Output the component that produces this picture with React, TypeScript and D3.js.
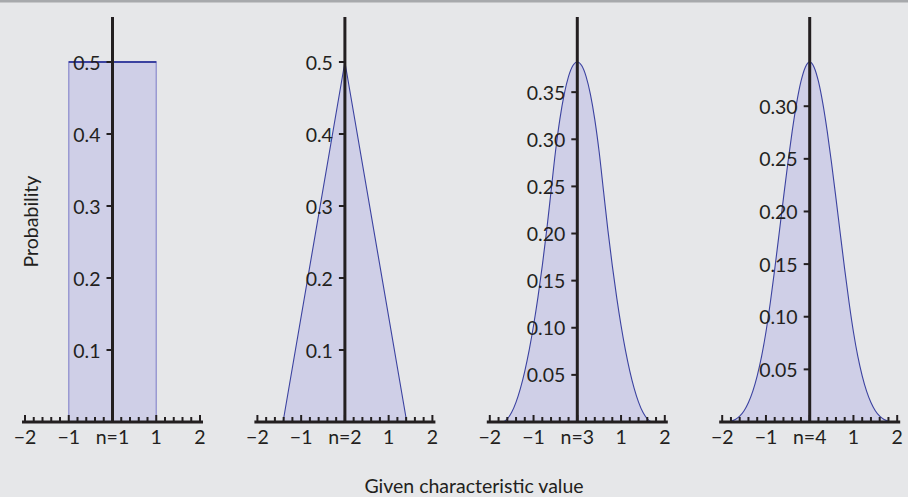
import React from "react";
import * as d3 from "d3";

// ---- data ----
const panelNames = ["n=1", "n=2", "n=3", "n=4"];
const xTickValues = [-2, -1, 0, 1, 2];
const xTickTexts = ["\u22122", "\u22121", null, "1", "2"];

const xs1 = [-1, 1];
const ys1 = [0.5, 0.5];

const xs2 = [-1.414, 0, 1.414];
const ys2 = [0, 0.5, 0];

const xs3 = [-1.732, -1.7, -1.6, -1.5, -1.4, -1.3, -1.2, -1.1, -1.0, -0.9, -0.8, -0.7, -0.6, -0.5, -0.4, -0.3, -0.2, -0.1, 0,
  0.1, 0.2, 0.3, 0.4, 0.5, 0.6, 0.7, 0.8, 0.9, 1.0, 1.1, 1.2, 1.3, 1.4, 1.5, 1.6, 1.7, 1.732];
const ys3 = [0, 0.0002, 0.0034, 0.0103, 0.0211, 0.0357, 0.0541, 0.0763, 0.1024, 0.1322, 0.1659, 0.2034, 0.2448, 0.2865, 0.3209, 0.3476, 0.3667, 0.3782, 0.382,
  0.3782, 0.3667, 0.3476, 0.3209, 0.2865, 0.2448, 0.2034, 0.1659, 0.1322, 0.1024, 0.0763, 0.0541, 0.0357, 0.0211, 0.0103, 0.0034, 0.0002, 0];

const xs4 = [-2.0, -1.9, -1.8, -1.7, -1.6, -1.5, -1.4, -1.3, -1.2, -1.1, -1.0, -0.9, -0.8, -0.7, -0.6, -0.5, -0.4, -0.3, -0.2, -0.1, 0,
  0.1, 0.2, 0.3, 0.4, 0.5, 0.6, 0.7, 0.8, 0.9, 1.0, 1.1, 1.2, 1.3, 1.4, 1.5, 1.6, 1.7, 1.8, 1.9, 2.0];
const ys4 = [0, 0.0001, 0.0007, 0.0023, 0.0055, 0.0107, 0.0185, 0.0293, 0.0438, 0.0623, 0.0855, 0.1135, 0.145, 0.1786, 0.2127, 0.2458, 0.2763, 0.3027, 0.3235, 0.3371, 0.342,
  0.3371, 0.3235, 0.3027, 0.2763, 0.2458, 0.2127, 0.1786, 0.145, 0.1135, 0.0855, 0.0623, 0.0438, 0.0293, 0.0185, 0.0107, 0.0055, 0.0023, 0.0007, 0.0001, 0];

const yTicks1 = [0.1, 0.2, 0.3, 0.4, 0.5];
const yTicks2 = [0.1, 0.2, 0.3, 0.4, 0.5];
const yTicks3 = [0.05, 0.1, 0.15, 0.2, 0.25, 0.3, 0.35];
const yTicks4 = [0.05, 0.1, 0.15, 0.2, 0.25, 0.3];

const yTickFormats = [".1f", ".1f", ".2f", ".2f"];

const panels = [
  { xs: xs1, ys: ys1, ticks: yTicks1, smooth: false },
  { xs: xs2, ys: ys2, ticks: yTicks2, smooth: false },
  { xs: xs3, ys: ys3, ticks: yTicks3, smooth: true },
  { xs: xs4, ys: ys4, ticks: yTicks4, smooth: true },
];

const W = 908;
const H = 497;
const FONT = "Lato, 'Open Sans', sans-serif";
const FS = 19.5;
const INK = "#231f20";
const FILL = "#cfcfe7";
const EDGE = "#9a9ad2";
const LINE = "#3b42a0";

function Panel({ idx }: { idx: number }) {
  const p = panels[idx];
  const left = 25 + idx * 232.4;
  const x = d3.scaleLinear().domain([-2, 2]).range([left, left + 175]);
  const yMax = (d3.max(p.ys) as number) * 1.125;
  const y = d3.scaleLinear().domain([0, yMax]).range([422, 17]);
  const pts = p.xs.map((v, i) => [v, p.ys[i]] as [number, number]);
  const curve = p.smooth ? d3.curveMonotoneX : d3.curveLinear;
  const area = d3
    .area<[number, number]>()
    .x((d) => x(d[0]))
    .y0(y(0))
    .y1((d) => y(d[1]))
    .curve(curve);
  const line = d3
    .line<[number, number]>()
    .x((d) => x(d[0]))
    .y((d) => y(d[1]))
    .curve(curve);
  const minor = d3.range(-2, 2.001, 0.2).map((v) => Math.round(v * 10) / 10);
  const fmt = d3.format(yTickFormats[idx]);
  const y0 = y(0);
  return (
    <g>
      <path d={area(pts) || ""} fill={FILL} stroke={idx === 0 ? EDGE : "none"} strokeWidth={1.5} />
      <path d={line(pts) || ""} fill="none" stroke={LINE} strokeWidth={idx === 0 ? 2 : 1.1} />
      {/* x axis */}
      <line x1={x(-2) - 3} x2={x(2) + 3} y1={y0} y2={y0} stroke={INK} strokeWidth={3} />
      {minor.map((v) => {
        const major = Math.abs(v - Math.round(v)) < 1e-6;
        return (
          <line key={v} x1={x(v)} x2={x(v)} y1={y0} y2={y0 - (major ? 7 : 5)} stroke={INK} strokeWidth={2} />
        );
      })}
      {xTickValues.map((v, i) => (
        <text key={v} x={x(v)} y={444} textAnchor="middle" fontFamily={FONT} fontSize={FS} fill={INK}>
          {xTickTexts[i] === null ? panelNames[idx] : xTickTexts[i]}
        </text>
      ))}
      {/* y axis */}
      <line x1={x(0)} x2={x(0)} y1={17} y2={y0} stroke={INK} strokeWidth={3} />
      {p.ticks.map((t) => (
        <g key={t}>
          <line x1={x(0) - 6} x2={x(0)} y1={y(t)} y2={y(t)} stroke={INK} strokeWidth={2} />
          <text x={x(0) - 12} y={y(t) + 7.5} textAnchor="end" fontFamily={FONT} fontSize={FS} fill={INK}>
            {fmt(t)}
          </text>
        </g>
      ))}
    </g>
  );
}

export default function App() {
  return (
    <svg
      width={W}
      height={H}
      style={{ position: "absolute", left: 0, top: 0, display: "block" }}
    >
      <rect x={0} y={0} width={W} height={H} fill="#e6e7e9" />
      <rect x={0} y={0} width={W} height={2.5} fill="#a7a9ac" />
      {panels.map((_, i) => (
        <Panel key={i} idx={i} />
      ))}
      <text
        transform="translate(38,221.5) rotate(-90)"
        textAnchor="middle"
        fontFamily={FONT}
        fontSize={FS}
        fill={INK}
      >
        Probability
      </text>
      <text x={474} y={493} textAnchor="middle" fontFamily={FONT} fontSize={FS} fill={INK}>
        Given characteristic value
      </text>
    </svg>
  );
}
